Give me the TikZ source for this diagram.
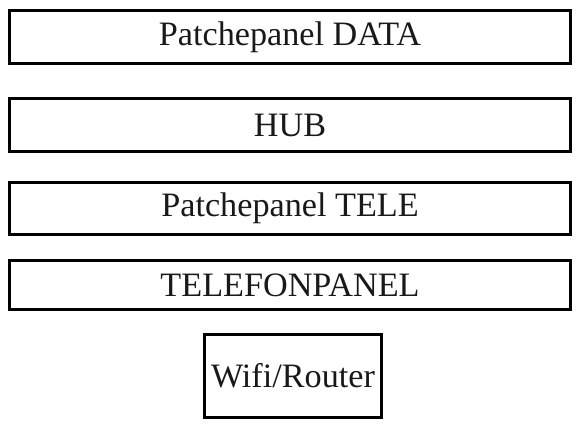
\documentclass[tikz,border=0pt]{standalone}
\usepackage{fontspec}
\setmainfont{Liberation Serif}
\begin{document}
\begin{tikzpicture}[x=1pt,y=-1pt,
  panel/.style={draw=black,line width=3pt,rectangle,inner sep=0pt,
    font=\fontsize{34.2}{40}\selectfont,text=black!90}]
\useasboundingbox[fill=white] (0,0) rectangle (581,425);
\node[panel,minimum width=561pt,minimum height=53pt] (data) at (290,37) {Patchepanel DATA};
\node[panel,minimum width=561pt,minimum height=53pt] (hub) at (290,125) {HUB};
\node[panel,minimum width=561pt,minimum height=52pt] (tele) at (290,208.5) {Patchepanel TELE};
\node[panel,minimum width=561pt,minimum height=49pt] (tpanel) at (290,285) {TELEFONPANEL};
\node[panel,minimum width=177pt,minimum height=83pt] (wifi) at (293,376) {Wifi/Router};
\end{tikzpicture}
\end{document}
